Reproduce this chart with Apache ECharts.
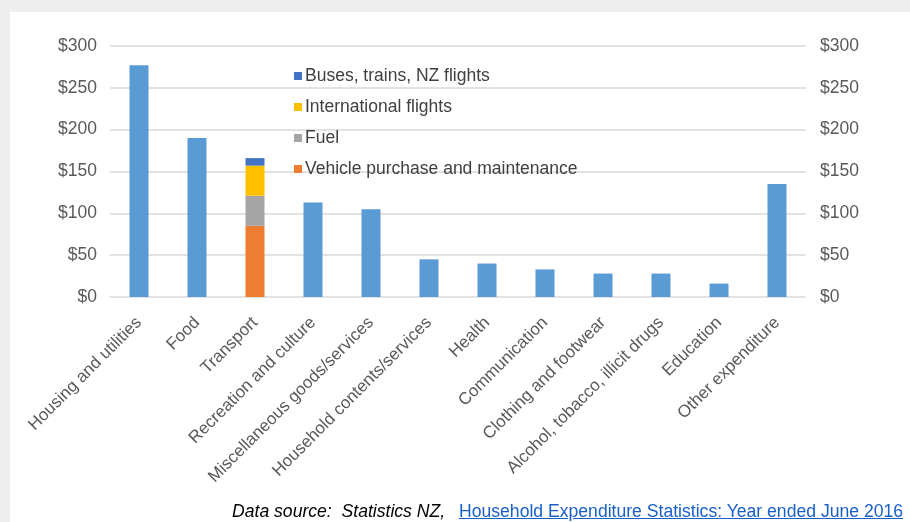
<!DOCTYPE html>
<html>
<head>
<meta charset="utf-8">
<script src="https://cdn.jsdelivr.net/npm/echarts@6/dist/echarts.min.js"></script>
<style>
  html, body { margin: 0; padding: 0; width: 910px; height: 522px; overflow: hidden; background: #eeeeee; font-family: "Liberation Sans", Arial, sans-serif; }
  #panel { position: absolute; left: 10px; top: 12px; width: 900px; height: 510px; background: #fff; }
  #chart { position: absolute; left: 0; top: 0; width: 910px; height: 522px; }
  .src { position: absolute; top: 501px; font-size: 17.6px; white-space: nowrap; line-height: 20px; }
  #srcLabel { left: 232px; color: #000; font-style: italic; }
  #srcLink { left: 459px; color: #1a5fc8; text-decoration: underline; }
</style>
</head>
<body>
<div id="panel"></div>
<div id="chart"></div>
<div id="srcLabel" class="src">Data source:&nbsp; Statistics NZ,</div>
<a id="srcLink" class="src">Household Expenditure Statistics: Year ended June 2016</a>
<script>
const categories = ['Housing and utilities', 'Food', 'Transport', 'Recreation and culture',
  'Miscellaneous goods/services', 'Household contents/services', 'Health', 'Communication',
  'Clothing and footwear', 'Alcohol, tobacco, illicit drugs', 'Education', 'Other expenditure']
// weekly spend, transport is split into its parts below
const expenditure = [277, 190, '-', 113, 105, 45, 40, 33, 28, 28, 16, 135]
const vehicle = ['-', '-', 85, '-', '-', '-', '-', '-', '-', '-', '-', '-']
const fuel = ['-', '-', 36, '-', '-', '-', '-', '-', '-', '-', '-', '-']
const intlFlights = ['-', '-', 36, '-', '-', '-', '-', '-', '-', '-', '-', '-']
const buses = ['-', '-', 9, '-', '-', '-', '-', '-', '-', '-', '-', '-']
const legendNames = ['Buses, trains, NZ flights', 'International flights', 'Fuel', 'Vehicle purchase and maintenance']

const myChart = echarts.init(document.getElementById('chart'))
const labelStyle = { color: '#595959', fontSize: 17.5, fontFamily: 'Liberation Sans' }
const yAxisBase = {
  type: 'value', min: 0, max: 300, interval: 50,
  axisLine: { show: false }, axisTick: { show: false },
  axisLabel: { ...labelStyle, formatter: v => '$' + v }
}
const part = (name, data, color) => ({
  name, type: 'bar', stack: 'total', data, barWidth: 19,
  itemStyle: { color }
})
const option = {
  animation: false,
  textStyle: { fontFamily: 'Liberation Sans' },
  grid: { left: 110, right: 104, top: 46, bottom: 225 },
  legend: {
    data: legendNames,
    orient: 'vertical',
    left: 289, top: 62,
    itemWidth: 8, itemHeight: 8, itemGap: 13,
    icon: 'rect',
    textStyle: { color: '#404040', fontSize: 17.5, fontFamily: 'Liberation Sans', padding: [0, 0, 0, -2] }
  },
  xAxis: {
    type: 'category',
    data: categories,
    axisLine: { show: false },
    axisTick: { show: false },
    axisLabel: { ...labelStyle, fontSize: 17, rotate: 45, interval: 0, margin: 23 }
  },
  yAxis: [
    { ...yAxisBase, position: 'left', axisLabel: { ...yAxisBase.axisLabel, margin: 13 },
      splitLine: { lineStyle: { color: '#d9d9d9', width: 1.5 } } },
    { ...yAxisBase, position: 'right', axisLabel: { ...yAxisBase.axisLabel, margin: 14 },
      splitLine: { show: false } }
  ],
  series: [
    part('Expenditure', expenditure, '#5b9bd5'),
    part('Vehicle purchase and maintenance', vehicle, '#ed7d31'),
    part('Fuel', fuel, '#a5a5a5'),
    part('International flights', intlFlights, '#ffc000'),
    part('Buses, trains, NZ flights', buses, '#4472c4')
  ]
}
myChart.setOption(option)
</script>
</body>
</html>
